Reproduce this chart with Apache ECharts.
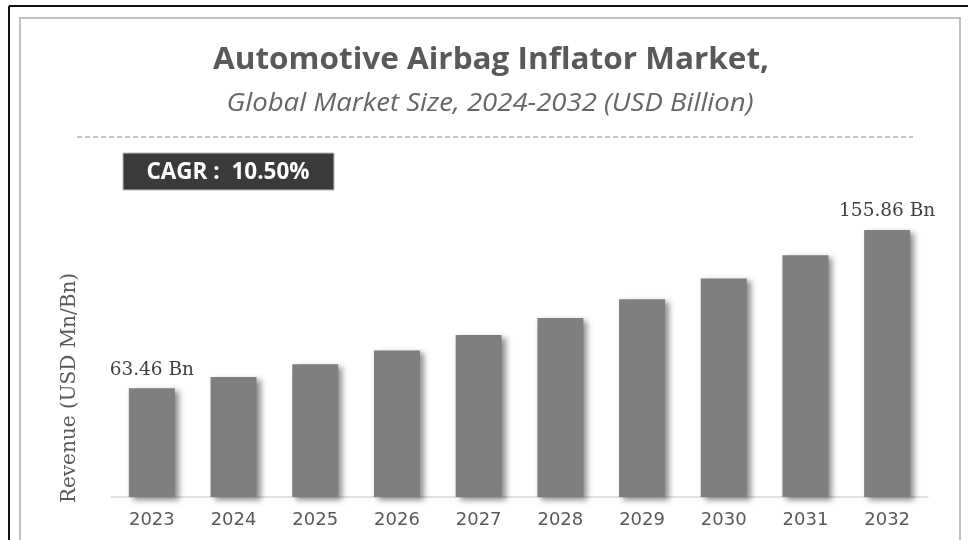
<!DOCTYPE html>
<html>
<head>
<meta charset="utf-8">
<script src="https://cdn.jsdelivr.net/npm/echarts@6/dist/echarts.min.js"></script>
<style>
  html, body { margin: 0; padding: 0; background: #fff; }
  #chart { width: 968px; height: 540px; }
</style>
</head>
<body>
<div id="chart"></div>
<script>
const years = ['2023', '2024', '2025', '2026', '2027', '2028', '2029', '2030', '2031', '2032'];
const revenue = [63.46, 70.1, 77.5, 85.6, 94.6, 104.5, 115.5, 127.6, 141.1, 155.86];
// only first and last bars carry a label
const labelled = [0, 9];
const titleText = 'Automotive Airbag Inflator Market,';
const subtitleText = 'Global Market Size, 2024-2032 (USD Billion)';
const cagrText = 'CAGR :  10.50%';

let chart = echarts.init(document.getElementById('chart'));

const option = {
    backgroundColor: '#fff',
    animation: false,
    graphic: [
        // outer black frame (top and left)
        {type: 'line', shape: {x1: 9, y1: 6, x2: 968, y2: 6}, style: {stroke: '#111', lineWidth: 2}},
        {type: 'line', shape: {x1: 9, y1: 6, x2: 9, y2: 540}, style: {stroke: '#111', lineWidth: 2}},
        // inner grey frame
        {type: 'rect', shape: {x: 20, y: 18, width: 940, height: 540}, style: {fill: 'none', stroke: '#c0c0c0', lineWidth: 2}},
        // titles, slightly stretched like the source image
        {
            type: 'text',
            x: 491,
            y: 60,
            scaleX: 1.05,
            style: {
                text: titleText,
                fill: '#595959',
                font: 'bold 30px "Open Sans"',
                textAlign: 'center',
                textVerticalAlign: 'middle'
            }
        },
        {
            type: 'text',
            x: 490,
            y: 104,
            scaleX: 1.08,
            style: {
                text: subtitleText,
                fill: '#666666',
                font: 'italic 25.5px "Open Sans"',
                textAlign: 'center',
                textVerticalAlign: 'middle'
            }
        },
        // dashed separator
        {type: 'line', shape: {x1: 77, y1: 137, x2: 913, y2: 137}, style: {stroke: '#b0b0b0', lineWidth: 1.5, lineDash: [5, 3]}},
        // CAGR badge
        {type: 'rect', shape: {x: 123, y: 153, width: 211, height: 37}, style: {fill: '#3a3a3a', stroke: '#bdbdbd', lineWidth: 1}},
        {
            type: 'text',
            x: 228,
            y: 173,
            style: {
                text: cagrText,
                fill: '#fff',
                font: 'bold 22.5px "Open Sans"',
                textAlign: 'center',
                textVerticalAlign: 'middle'
            }
        },
        // y axis title, placed by hand to sit lower than the grid middle
        {
            type: 'text',
            x: 70,
            y: 388,
            rotation: Math.PI / 2,
            style: {
                text: 'Revenue (USD Mn/Bn)',
                fill: '#595959',
                font: '20px "DejaVu Serif"',
                textAlign: 'center',
                textVerticalAlign: 'middle'
            }
        }
    ],
    grid: {
        left: 111,
        right: 40,
        top: 223,
        bottom: 43
    },
    xAxis: {
        type: 'category',
        data: years,
        axisLine: {show: true, lineStyle: {color: '#d9d9d9', width: 1.5}},
        axisTick: {show: false},
        axisLabel: {
            color: '#595959',
            fontFamily: 'DejaVu Sans',
            fontSize: 18,
            margin: 14
        }
    },
    yAxis: {
        type: 'value',
        min: 0,
        max: 160,
        axisLine: {show: false},
        axisTick: {show: false},
        axisLabel: {show: false},
        splitLine: {show: false}
    },
    series: [
        {
            type: 'bar',
            barWidth: 46,
            data: revenue.map((v, i) => ({
                value: v,
                label: {
                    show: labelled.indexOf(i) >= 0,
                    position: 'top',
                    distance: 9,
                    formatter: v.toFixed(2) + ' Bn',
                    color: '#404040',
                    fontFamily: 'DejaVu Serif',
                    fontSize: 18.5
                }
            })),
            itemStyle: {
                color: '#7f7f7f',
                shadowColor: 'rgba(0,0,0,0.45)',
                shadowBlur: 6,
                shadowOffsetX: 4,
                shadowOffsetY: 3
            }
        }
    ]
};

chart.setOption(option);

window.addEventListener('resize', function () {
    chart.resize();
});
</script>
</body>
</html>
